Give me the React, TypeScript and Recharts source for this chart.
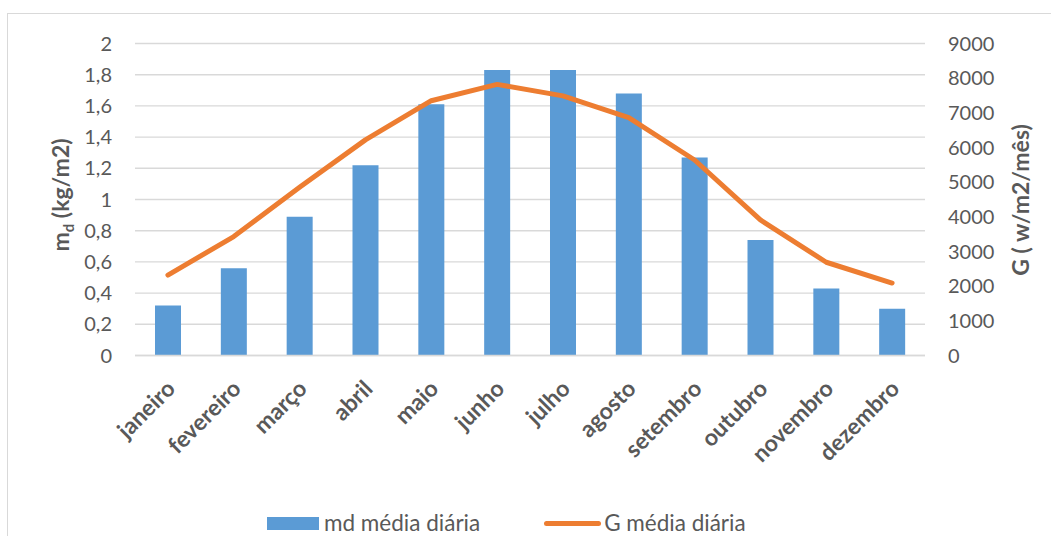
import React from 'react';
import { ComposedChart, Bar, Line, XAxis, YAxis, CartesianGrid, Legend } from 'recharts';

const months = ['janeiro', 'fevereiro', 'março', 'abril', 'maio', 'junho', 'julho', 'agosto', 'setembro', 'outubro', 'novembro', 'dezembro'];
const mdValues = [0.32, 0.56, 0.89, 1.22, 1.61, 1.83, 1.83, 1.68, 1.27, 0.74, 0.43, 0.30];
const gValues = [2320, 3430, 4850, 6220, 7350, 7820, 7490, 6860, 5640, 3910, 2690, 2090];
const leftTicks = [0, 0.2, 0.4, 0.6, 0.8, 1, 1.2, 1.4, 1.6, 1.8, 2];
const rightTicks = [0, 1000, 2000, 3000, 4000, 5000, 6000, 7000, 8000, 9000];
const mdName = 'md média diária';
const gName = 'G média diária';
const leftTitleMain = 'm';
const leftTitleSub = 'd';
const leftTitleRest = ' (kg/m2)';
const rightTitle = 'G ( w/m2/mês)';

const data = months.map((m, i) => ({ month: m, md: mdValues[i], g: gValues[i] }));

const FONT = 'Lato, "Open Sans", sans-serif';
const TEXT = '#595959';
const BLUE = '#5B9BD5';
const ORANGE = '#ED7D31';
const GRID = '#d9d9d9';

const XTick = (props: any) => {
  const { x, y, payload } = props;
  return (
    <g transform={`translate(${x + 3},${y + 29})`}>
      <text transform="rotate(-45)" textAnchor="end" dy="0.35em" fontFamily={FONT} fontWeight="bold" fontSize={23} fill={TEXT}>
        {payload.value}
      </text>
    </g>
  );
};

const LeftTitle = () => (
  <text transform="rotate(-90, 61, 195)" x={61} y={195} textAnchor="middle" dy="0.35em" fontFamily={FONT} fontWeight="bold" fontSize={23} fill={TEXT}>
    {leftTitleMain}
    <tspan fontSize={15} dy={5}>{leftTitleSub}</tspan>
    <tspan dy={-5}>{leftTitleRest}</tspan>
  </text>
);

const RightTitle = () => (
  <text transform="rotate(-90, 1021, 200)" x={1021} y={200} textAnchor="middle" dy="0.35em" fontFamily={FONT} fontWeight="bold" fontSize={23} fill={TEXT}>
    {rightTitle}
  </text>
);

const LegendContent = () => (
  <div style={{ display: 'flex', alignItems: 'center', fontFamily: FONT, fontSize: 22.5, color: TEXT, lineHeight: '24px', whiteSpace: 'nowrap' }}>
    <span style={{ display: 'inline-block', width: 52, height: 13, background: BLUE, marginRight: 5 }} />
    <span>{mdName}</span>
    <span style={{ display: 'inline-block', width: 57, height: 5, background: ORANGE, borderRadius: 3, marginLeft: 64, marginRight: 3 }} />
    <span>{gName}</span>
  </div>
);

export default function App() {
  return (
    <div style={{ position: 'absolute', left: 0, top: 0, width: 1051, height: 536, overflow: 'hidden', background: '#fff' }}>
      <div style={{ position: 'absolute', left: 7, top: 13, width: 1100, height: 600, border: '1px solid #d9d9d9' }} />
      <div style={{ position: 'absolute', left: 0, top: 0 }}>
        <ComposedChart width={1051} height={536} data={data} margin={{ top: 43.5, right: 0, bottom: 0, left: 0 }}>
          <CartesianGrid yAxisId="left" vertical={false} stroke={GRID} strokeWidth={1.4} />
          <XAxis dataKey="month" height={180.5} interval={0} tickLine={false} axisLine={{ stroke: GRID, strokeWidth: 1.4 }} tickSize={0} tickMargin={0} tick={<XTick />} />
          <YAxis
            yAxisId="left"
            orientation="left"
            width={135}
            domain={[0, 2]}
            ticks={leftTicks}
            axisLine={false}
            tickLine={false}
            tickSize={0}
            tickMargin={23}
            tickFormatter={(v: number) => String(v).replace('.', ',')}
            tick={{ fill: TEXT, fontSize: 20, fontFamily: FONT }}
            label={<LeftTitle />}
          />
          <YAxis
            yAxisId="right"
            orientation="right"
            width={126}
            domain={[0, 9000]}
            ticks={rightTicks}
            axisLine={false}
            tickLine={false}
            tickSize={0}
            tickMargin={23}
            tick={{ fill: TEXT, fontSize: 20, fontFamily: FONT }}
            label={<RightTitle />}
          />
          <Bar yAxisId="left" dataKey="md" name={mdName} fill={BLUE} barSize={26} isAnimationActive={false} />
          <Line yAxisId="right" dataKey="g" name={gName} stroke={ORANGE} strokeWidth={5} dot={false} strokeLinecap="round" strokeLinejoin="round" isAnimationActive={false} />
          <Legend layout="horizontal" verticalAlign="middle" align="center" content={<LegendContent />} wrapperStyle={{ position: 'absolute', top: 511, left: 267, width: 600, height: 24 }} />
        </ComposedChart>
      </div>
    </div>
  );
}
